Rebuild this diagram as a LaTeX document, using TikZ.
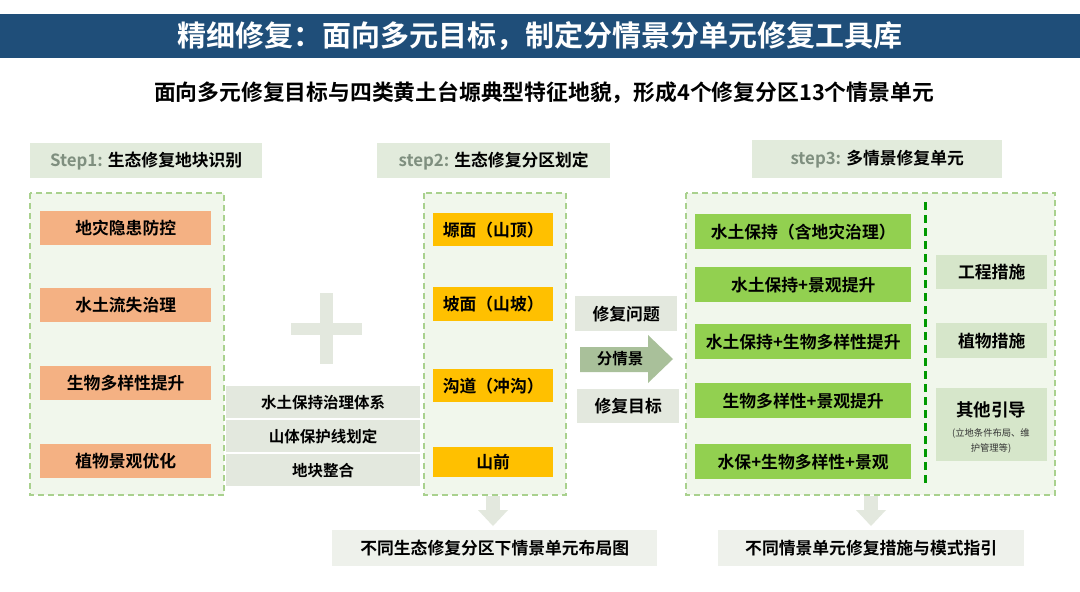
\documentclass[tikz,border=0pt]{standalone}
\usepackage{fontspec}
\setmainfont{Noto Sans CJK SC}[BoldFont={Noto Sans CJK SC Bold}]
\usetikzlibrary{shapes.arrows}
\definecolor{titleblue}{HTML}{1F4E79}
\definecolor{lbl}{HTML}{E2EBDC}
\definecolor{cont}{HTML}{F1F7EC}
\definecolor{dashg}{HTML}{A9D18E}
\definecolor{orng}{HTML}{F4B183}
\definecolor{yel}{HTML}{FFC000}
\definecolor{grn}{HTML}{92D050}
\definecolor{gry}{HTML}{E3E8DE}
\definecolor{sgrn}{HTML}{D6E6CA}
\definecolor{arr}{HTML}{A9C09A}
\definecolor{steptxt}{HTML}{7F8F7F}
\tikzset{
 box/.style={draw=none,anchor=north west,inner sep=0pt},
 contbox/.style={draw=dashg,fill=cont,dash pattern=on 6pt off 4pt,line width=1.6pt},
 bt/.style={font=\bfseries\fontsize{16.8}{19}\selectfont},
}
\newcommand{\bx}[6]{\node[box,fill=#2,minimum width=#5pt,minimum height=#6pt] (#1) at (#3,#4) {};}
\begin{document}
\begin{tikzpicture}[x=1pt,y=-1pt]
\useasboundingbox (0,0) rectangle (1080,592);
\fill[white] (0,0) rectangle (1080,592);
% title
\node[box,fill=titleblue,minimum width=1080pt,minimum height=44pt] (title) at (0,14) {};
\node[text=white,font=\bfseries\fontsize{29}{32}\selectfont] (tt) at (title.center) {精细修复：面向多元目标，制定分情景分单元修复工具库};
\node[font=\bfseries\fontsize{21.8}{24}\selectfont] (sub) at (544,93) {面向多元修复目标与四类黄土台塬典型特征地貌，形成4个修复分区13个情景单元};
% step labels
\bx{s1}{lbl}{30}{143}{232}{35}
\node at (s1.center) [bt] {\textcolor{steptxt}{Step1:} 生态修复地块识别};
\bx{s2}{lbl}{377}{143}{233}{35}
\node at (s2.center) [bt] {\textcolor{steptxt}{step2:} 生态修复分区划定};
\bx{s3}{lbl}{752}{140}{250}{38}
\node at (s3.center) [bt] {\textcolor{steptxt}{step3:} 多情景修复单元};
% containers
\draw[contbox] (30,193) rectangle (224,495);
\draw[contbox] (424,193) rectangle (566,495);
\draw[contbox] (686,193) rectangle (1055,495);
% left orange
\foreach \y/\t [count=\i] in {211/地灾隐患防控,288/水土流失治理,366/生物多样性提升,444/植物景观优化}{
 \node[box,fill=orng,minimum width=171pt,minimum height=34pt] (o\i) at (40,\y) {};
 \node[bt] at (o\i.center) {\t};}
% plus
\fill[gry] (320,293) rectangle (333,364);
\fill[gry] (291,323) rectangle (362,335);
% gray boxes
\foreach \y/\t [count=\i] in {386/水土保持治理体系,420/山体保护线划定,454/地块整合}{
 \node[box,fill=gry,minimum width=194pt,minimum height=32pt] (g\i) at (226,\y) {};
 \node[font=\bfseries\fontsize{15.5}{17}\selectfont] at (g\i.center) {\t};}
% yellow
\foreach \y/\h/\t [count=\i] in {213/33/塬面（山顶）,287/34/坡面（山坡）,369/33/沟道（冲沟）,447/30/山前}{
 \node[box,fill=yel,minimum width=120pt,minimum height=\h pt] (y\i) at (433,\y) {};
 \node[bt] at (y\i.center) {\t};}
% middle
\node[box,fill=gry,minimum width=102pt,minimum height=35pt] (m1) at (575,296) {};
\node[bt] at (m1.center) {修复问题};
\node[box,fill=gry,minimum width=102pt,minimum height=34pt] (m3) at (577,389) {};
\node[bt] at (m3.center) {修复目标};
\fill[arr] (580,347) -- (648,347) -- (648,335) -- (673,359) -- (648,383) -- (648,372) -- (580,372) -- cycle;
\node[font=\bfseries\fontsize{15.5}{17}\selectfont] (m2) at (620,359) {分情景};
% right green
\foreach \y/\t [count=\i] in {214/水土保持（含地灾治理）,267/水土保持+景观提升,324/水土保持+生物多样性提升,383/生物多样性+景观提升,444/水保+生物多样性+景观}{
 \node[box,fill=grn,minimum width=216pt,minimum height=35pt] (r\i) at (695,\y) {};
 \node[bt] at (r\i.center) {\t};}
\draw[color=green!60!black,line width=3pt,dash pattern=on 8pt off 5pt] (925,202) -- (925,483);
\node[box,fill=sgrn,minimum width=111pt,minimum height=34pt] (k1) at (936,255) {};
\node[bt] at (k1.center) {工程措施};
\node[box,fill=sgrn,minimum width=111pt,minimum height=35pt] (k2) at (936,323) {};
\node[bt] at (k2.center) {植物措施};
\node[box,fill=sgrn,minimum width=111pt,minimum height=73pt] (k3) at (936,388) {};
\node[font=\bfseries\fontsize{17.5}{20}\selectfont] at (991,410) {其他引导};
\node[font=\fontsize{9.3}{15}\selectfont,align=center,text=black!80] at (991,441) {(立地条件布局、维\\护管理等)};
% down arrows
\fill[gry] (486,496) rectangle (500,510);
\fill[gry] (478,510) -- (508,510) -- (493,526) -- cycle;
\fill[gry] (864,496) rectangle (878,510);
\fill[gry] (856,510) -- (886,510) -- (871,526) -- cycle;
% bottom
\node[box,fill=gry!60,minimum width=325pt,minimum height=36pt] (b1) at (332,530) {};
\node[bt] at (b1.center) {不同生态修复分区下情景单元布局图};
\node[box,fill=gry!60,minimum width=306pt,minimum height=36pt] (b2) at (718,530) {};
\node[bt] at (b2.center) {不同情景单元修复措施与模式指引};
\end{tikzpicture}
\end{document}
